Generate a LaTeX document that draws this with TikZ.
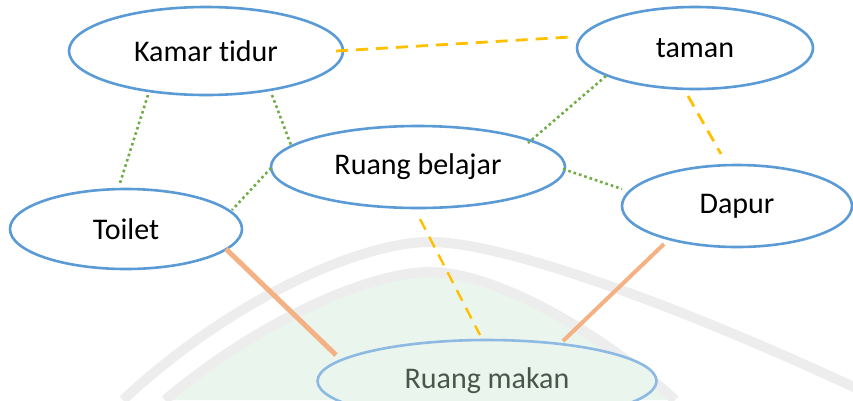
\documentclass[tikz,border=0pt]{standalone}
\usepackage{fontspec}
\setmainfont{Carlito}[RawFeature=-liga]
\usetikzlibrary{shapes.geometric,calc}
\definecolor{eblue}{HTML}{5B9BD5}
\definecolor{eblueL}{HTML}{8DB9E2}
\definecolor{lgreen}{HTML}{70AD47}
\definecolor{lorange}{HTML}{FFC000}
\definecolor{lsalmon}{HTML}{F4B183}
\definecolor{wmgrey}{HTML}{EDEDED}
\definecolor{wmgreen}{HTML}{EAF5EE}
\definecolor{rmtext}{HTML}{4A554C}
\tikzset{
  room/.style={ellipse, draw=eblue, line width=2.6pt, fill=white, inner sep=0pt, font=\fontsize{30}{33}\selectfont},
  dotlink/.style={draw=lgreen, line width=2.6pt, dash pattern=on 2.6pt off 3pt},
  dashlink/.style={draw=lorange, line width=2.8pt, dash pattern=on 12pt off 8pt},
  solidlink/.style={draw=lsalmon, line width=5pt},
}
\begin{document}
\begin{tikzpicture}[x=1pt,y=-1pt]
\clip (0,0) rectangle (853,400);
\useasboundingbox (0,0) rectangle (853,400);
% watermark
\fill[wmgreen] (165,400) .. controls (260,320) and (370,272) .. (430,272) .. controls (500,272) and (610,340) .. (675,400) -- cycle;
\draw[wmgrey, line width=10pt] (123,400) .. controls (230,300) and (360,242) .. (430,242) .. controls (510,242) and (700,315) .. (860,390);
\draw[wmgrey, line width=10pt] (165,400) .. controls (260,320) and (370,272) .. (430,272) .. controls (500,272) and (610,340) .. (675,400);
% nodes
\node[room, minimum width=274pt, minimum height=88pt] (kt) at (206,51) {Kamar tidur};
\node[room, minimum width=236pt, minimum height=82pt] (tm) at (695,48) {taman};
\node[room, minimum width=294pt, minimum height=82pt] (rb) at (418,167) {Ruang belajar};
\node[room, minimum width=232pt, minimum height=80pt] (to) at (126,229) {Toilet};
\node[room, minimum width=230pt, minimum height=82pt] (dp) at (737,206) {Dapur};
\node[room, draw=eblueL, fill=wmgreen, text=rmtext, minimum width=339pt, minimum height=82pt] (rm) at (487,381) {Ruang makan};
% links
\draw[dashlink] ($(kt)+(130,0)$) -- ($(tm)+(-124,-11)$);
\draw[dotlink] ($(kt)+(-58,44)$) -- ($(to)+(-6,-46)$);
\draw[dotlink] ($(kt)+(66,44)$) -- ($(rb)+(-127,-22)$);
\draw[dotlink] ($(rb)+(-147,1)$) -- ($(to)+(106,-19)$);
\draw[dotlink] ($(tm)+(-89,28)$) -- ($(rb)+(110,-24)$);
\draw[dotlink] ($(rb)+(145,2)$) -- ($(dp)+(-115,-17)$);
\draw[dashlink] ($(tm)+(-7,48)$) -- ($(dp)+(-16,-52)$);
\draw[dashlink, line width=2.4pt] ($(rb)+(2,52)$) -- ($(rm)+(-7,-46)$);
\draw[solidlink] ($(to)+(100,20)$) -- ($(rm)+(-151,-26)$);
\draw[solidlink, line width=4pt] ($(dp)+(-73,38)$) -- ($(rm)+(76,-40)$);
\end{tikzpicture}
\end{document}
